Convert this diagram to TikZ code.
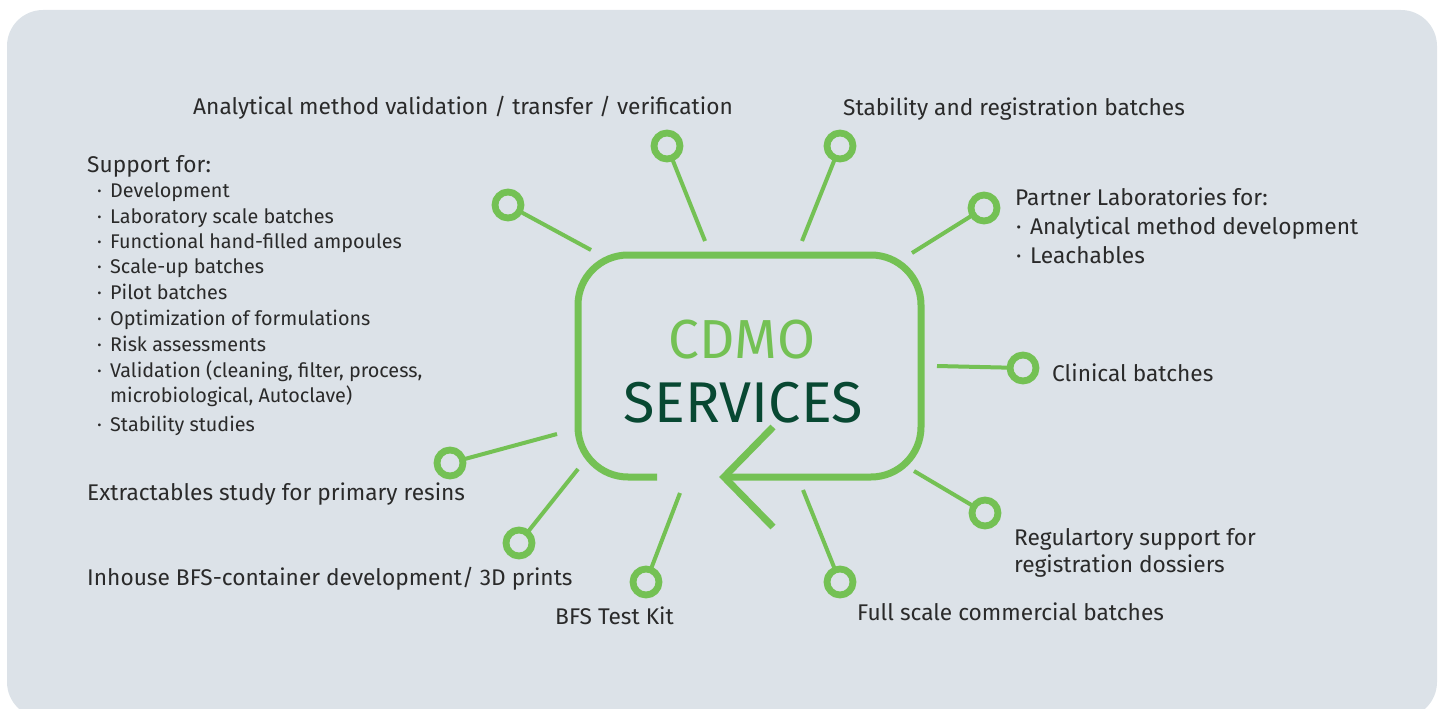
\documentclass[tikz,border=0pt]{standalone}
\usepackage{fontspec}
\setmainfont{Fira Sans}
\definecolor{bg}{RGB}{220,226,232}
\definecolor{grn}{RGB}{116,193,84}
\definecolor{dgrn}{RGB}{8,72,50}
\definecolor{txt}{RGB}{42,42,42}
\begin{document}
\begin{tikzpicture}[x=1pt,y=-1pt,
 ring/.style={circle,draw=grn,line width=6.8pt,minimum size=26pt,inner sep=0pt,outer sep=0pt},
 spoke/.style={draw=grn,line width=4pt},
 frame/.style={draw=grn,line width=7pt},
 lbl/.style={anchor=base west,inner sep=0pt,text=txt,font=\fontsize{22.7}{26}\selectfont},
 item/.style={anchor=base west,inner sep=0pt,text=txt,font=\fontsize{19.8}{23}\selectfont},
]
\useasboundingbox (0,0) rectangle (1441,709);
\fill[bg, rounded corners=36pt] (7,10) rectangle (1437,718);

% central frame
\draw[frame, rounded corners=50pt] (657,477) -- (578,477) -- (578,255) -- (921,255) -- (921,477) -- (723,477);
\draw[frame, line join=miter] (773,427) -- (724,477) -- (773,527);
\node[anchor=base, inner sep=0pt, text=grn, font=\fontsize{55}{60}\selectfont] (cdmo) at (742,358) {CDMO};
\node[anchor=base, inner sep=0pt, text=dgrn, font=\fontsize{57.5}{60}\selectfont] (services) at (743,422) {SERVICES};

% rings and spokes
\node[ring] (c1) at (508,205) {};   \coordinate (e1) at (591,250);
\node[ring] (c2) at (667,146) {};   \coordinate (e2) at (705,241);
\node[ring] (c3) at (840,146) {};   \coordinate (e3) at (802,241);
\node[ring] (c4) at (984,208) {};   \coordinate (e4) at (912,253);
\node[ring] (c5) at (1023,368) {};  \coordinate (e5) at (937,366);
\node[ring] (c6) at (985,513) {};   \coordinate (e6) at (914,471);
\node[ring] (c7) at (840,582) {};   \coordinate (e7) at (803,490);
\node[ring] (c8) at (646,582) {};   \coordinate (e8) at (680,493);
\node[ring] (c9) at (519,543) {};   \coordinate (e9) at (578,469);
\node[ring] (c10) at (450,463) {};  \coordinate (e10) at (557,434);
\foreach \i in {1,...,10} { \draw[spoke] (e\i) -- (c\i); }

% labels
\node[lbl] (t1) at (193,114) {Analytical method validation / transfer / verification};
\node[lbl] (t2) at (843,115) {Stability and registration batches};
\node[lbl] (t3) at (1015,205) {Partner Laboratories for:};
\node[lbl] (t3a) at (1016,234) {\makebox[14pt][l]{·}Analytical method development};
\node[lbl] (t3b) at (1016,263) {\makebox[14pt][l]{·}Leachables};
\node[lbl] (t4) at (1052,381) {Clinical batches};
\node[lbl] (t5) at (1014,545) {Regulartory support for};
\node[lbl] (t5b) at (1014,572) {registration dossiers};
\node[lbl] (t6) at (857,620) {Full scale commercial batches};
\node[lbl] (t7) at (555,624) {BFS Test Kit};
\node[lbl] (t8) at (87,585) {Inhouse BFS-container development/ 3D prints};
\node[lbl] (t9) at (87,500) {Extractables study for primary resins};
\node[lbl] (t10) at (87,172) {Support for:};
\node[item] (l1) at (97,197) {\makebox[13pt][l]{·}Development};
\node[item] (l2) at (97,223) {\makebox[13pt][l]{·}Laboratory scale batches};
\node[item] (l3) at (97,248) {\makebox[13pt][l]{·}Functional hand-filled ampoules};
\node[item] (l4) at (97,273) {\makebox[13pt][l]{·}Scale-up batches};
\node[item] (l5) at (97,299) {\makebox[13pt][l]{·}Pilot batches};
\node[item] (l6) at (97,325) {\makebox[13pt][l]{·}Optimization of formulations};
\node[item] (l7) at (97,351) {\makebox[13pt][l]{·}Risk assessments};
\node[item] (l8) at (97,377) {\makebox[13pt][l]{·}Validation (cleaning, filter, process,};
\node[item] (l8b) at (110,402) {microbiological, Autoclave)};
\node[item] (l9) at (97,431) {\makebox[13pt][l]{·}Stability studies};
\end{tikzpicture}
\end{document}
